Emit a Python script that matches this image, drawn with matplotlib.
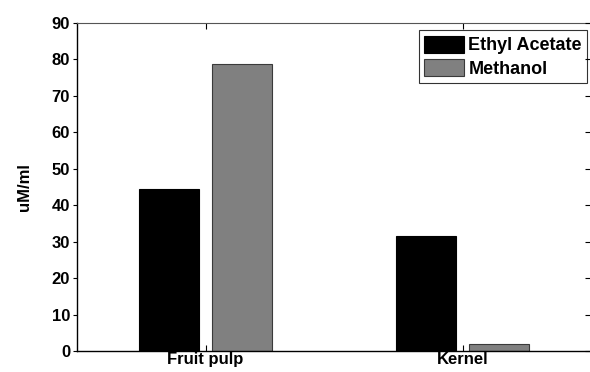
import matplotlib
matplotlib.use('Agg')
from matplotlib import pyplot as plt
import numpy as np

plt.rcParams['font.family'] = ['Liberation Sans', 'DejaVu Sans']
plt.rcParams['font.weight'] = 'bold'

# data
categories = ['Fruit pulp', 'Kernel']
ethyl_acetate = [44.5, 31.5]
methanol = [78.8, 1.9]
yticks = [0, 10, 20, 30, 40, 50, 60, 70, 80, 90]

x = np.arange(len(categories))
width = 0.233
offset = 0.143

fig = plt.figure(figsize=(5.9, 3.72), dpi=100)
ax = fig.add_axes([77/590, 21/372, 514/590, 328/372])

ax.bar(x - offset, ethyl_acetate, width, color='black', edgecolor='black',
       linewidth=0.8, label='Ethyl Acetate')
ax.bar(x + offset, methanol, width, color='#808080', edgecolor='#3a3a3a',
       linewidth=0.8, label='Methanol')

ax.set_xlim(-0.5, 1.5)
ax.set_ylim(0, 90)
ax.set_xticks(x)
ax.set_xticklabels(categories, fontsize=12, fontweight='bold')
ax.set_yticks(yticks)
ax.set_yticklabels([str(v) for v in yticks], fontsize=12, fontweight='bold')
ax.tick_params(axis='x', direction='in', length=4, width=0.8, top=True, pad=1)
ax.tick_params(axis='y', direction='out', length=3, width=0.8, pad=2)
ax.set_ylabel('uM/ml', fontsize=12, fontweight='bold', labelpad=14)

for side in ['left', 'bottom']:
    ax.spines[side].set_linewidth(1.0)
ax.spines['top'].set_color('#555555')
ax.spines['right'].set_visible(False)

# right-hand ticks point inward
ax2 = ax.twinx()
ax2.set_ylim(0, 90)
ax2.set_yticks(yticks)
ax2.tick_params(axis='y', direction='in', length=4, width=0.8, labelright=False)
for s in ax2.spines.values():
    s.set_visible(False)

leg = ax.legend(loc='upper right', bbox_to_anchor=(0.993, 0.978), fontsize=13,
                frameon=True, fancybox=False, borderpad=0.3, labelspacing=0.25,
                handlelength=2.2, handleheight=1.1, handletextpad=0.25,
                borderaxespad=0.0)
leg.get_frame().set_edgecolor('black')
leg.get_frame().set_linewidth(0.8)
for t in leg.get_texts():
    t.set_fontweight('bold')

fig.savefig('out.png', dpi=100)
